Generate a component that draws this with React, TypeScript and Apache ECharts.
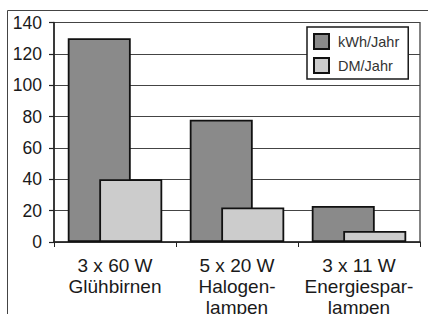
import React, { useEffect, useRef } from "react";
import * as echarts from "echarts";

const categories = ["3 x 60 W\nGlühbirnen", "5 x 20 W\nHalogen-\nlampen", "3 x 11 W\nEnergiespar-\nlampen"];
const kwhValues = [130, 78, 23];
const dmValues = [40, 22, 7];
const seriesNames = ["kWh/Jahr", "DM/Jahr"];
const yTicks = { min: 0, max: 140, interval: 20 };

export default function App() {
  const ref = useRef<HTMLDivElement>(null);
  useEffect(() => {
    if (!ref.current) return;
    const chart = echarts.init(ref.current, null, { renderer: "svg" });
    const font = "Liberation Sans, Arial, sans-serif";
    chart.setOption({
      animation: false,
      backgroundColor: "#fff",
      textStyle: { fontFamily: font },
      graphic: [
        {
          type: "rect",
          shape: { x: 7.5, y: 10.5, width: 460, height: 340 },
          style: { fill: "none", stroke: "#444", lineWidth: 1 },
          silent: true,
          z: 100,
        },
      ],
      grid: {
        left: 54,
        right: 8,
        top: 22.5,
        bottom: 72,
        show: true,
        borderColor: "#333",
        borderWidth: 1.2,
        containLabel: false,
        outerBoundsMode: "none",
      },
      legend: {
        orient: "vertical",
        left: 307,
        top: 27,
        itemWidth: 15,
        itemHeight: 15,
        itemGap: 7,
        icon: "rect",
        backgroundColor: "#fff",
        borderColor: "#1a1a1a",
        borderWidth: 1.5,
        padding: [6, 9, 5, 6],
        textStyle: { fontFamily: font, fontSize: 14.5, color: "#333", padding: [0, 0, 0, 4] },
        data: seriesNames,
      },
      xAxis: {
        type: "category",
        data: categories,
        axisLine: { lineStyle: { color: "#222", width: 1.5 } },
        axisTick: { show: true, alignWithLabel: false, length: 5, lineStyle: { color: "#222", width: 1 } },
        axisLabel: {
          fontFamily: font,
          fontSize: 19,
          lineHeight: 21,
          color: "#1a1a1a",
          margin: 13,
          interval: 0,
        },
      },
      yAxis: {
        type: "value",
        min: yTicks.min,
        max: yTicks.max,
        interval: yTicks.interval,
        axisLine: { show: true, lineStyle: { color: "#222", width: 1.5 } },
        axisTick: { show: true, length: 5, lineStyle: { color: "#222", width: 1.2 } },
        axisLabel: { fontFamily: font, fontSize: 17.5, color: "#1a1a1a", margin: 12 },
        splitLine: { show: true, lineStyle: { color: "#444", width: 1.2 } },
      },
      series: [
        {
          name: seriesNames[0],
          type: "bar",
          data: kwhValues,
          barWidth: 63,
          barGap: "-50%",
          itemStyle: { color: "#8a8a8a", borderColor: "#111", borderWidth: 1.8 },
        },
        {
          name: seriesNames[1],
          type: "bar",
          data: dmValues,
          barWidth: 63,
          barGap: "-50%",
          itemStyle: { color: "#cccccc", borderColor: "#111", borderWidth: 1.8 },
        },
      ],
    });
    return () => chart.dispose();
  }, []);
  return <div ref={ref} style={{ width: 428, height: 314, position: "absolute", left: 0, top: 0 }} />;
}
